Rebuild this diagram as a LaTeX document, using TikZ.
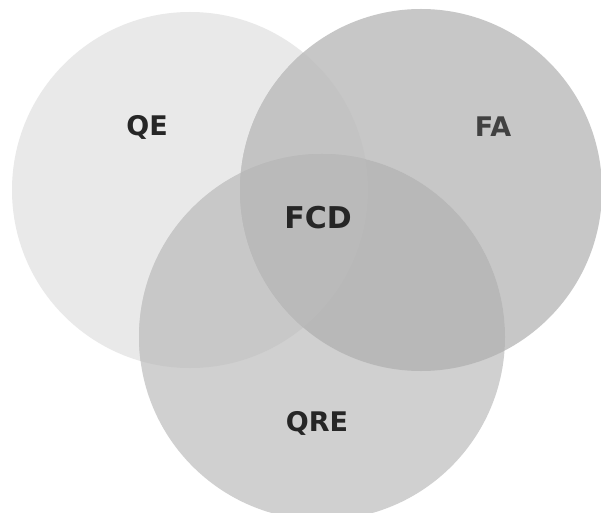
\documentclass[tikz,border=0pt]{standalone}
\usepackage{fontspec}
\setmainfont{DejaVu Sans}
\definecolor{cqe}{gray}{0.915}
\definecolor{cfa}{gray}{0.78}
\definecolor{cqre}{gray}{0.815}
\definecolor{cqefa}{gray}{0.765}
\definecolor{cqeqre}{gray}{0.785}
\definecolor{cfaqre}{gray}{0.72}
\definecolor{call}{gray}{0.73}
\definecolor{ctext}{gray}{0.15}
\tikzset{
  lbl/.style={text=ctext, font=\bfseries\fontsize{27}{27}\selectfont, inner sep=0pt},
}
\begin{document}
\begin{tikzpicture}[x=1pt,y=1pt]
\useasboundingbox (0,0) rectangle (601,512);
\fill[white] (0,0) rectangle (601,512);
\coordinate (cQE) at (190,322);
\coordinate (cFA) at (421,322);
\coordinate (cQRE) at (322,175);
\def\rQE{178}\def\rFA{181}\def\rQRE{183}
% single sets
\fill[cqe] (cQE) circle (\rQE);
\fill[cfa] (cFA) circle (\rFA);
\fill[cqre] (cQRE) circle (\rQRE);
% pairwise
\begin{scope}\clip (cQE) circle (\rQE); \fill[cqefa] (cFA) circle (\rFA);\end{scope}
\begin{scope}\clip (cQE) circle (\rQE); \fill[cqeqre] (cQRE) circle (\rQRE);\end{scope}
\begin{scope}\clip (cFA) circle (\rFA); \fill[cfaqre] (cQRE) circle (\rQRE);\end{scope}
% triple
\begin{scope}\clip (cQE) circle (\rQE); \clip (cFA) circle (\rFA); \fill[call] (cQRE) circle (\rQRE);\end{scope}
% labels
\node[lbl] (qe) at (147,385) {QE};
\node[lbl, text=gray!30!ctext] (fa) at (493,385) {FA};
\node[lbl, font=\bfseries\fontsize{30}{30}\selectfont] (fcd) at (318,294) {FCD};
\node[lbl] (qre) at (317,89) {QRE};
\end{tikzpicture}
\end{document}
